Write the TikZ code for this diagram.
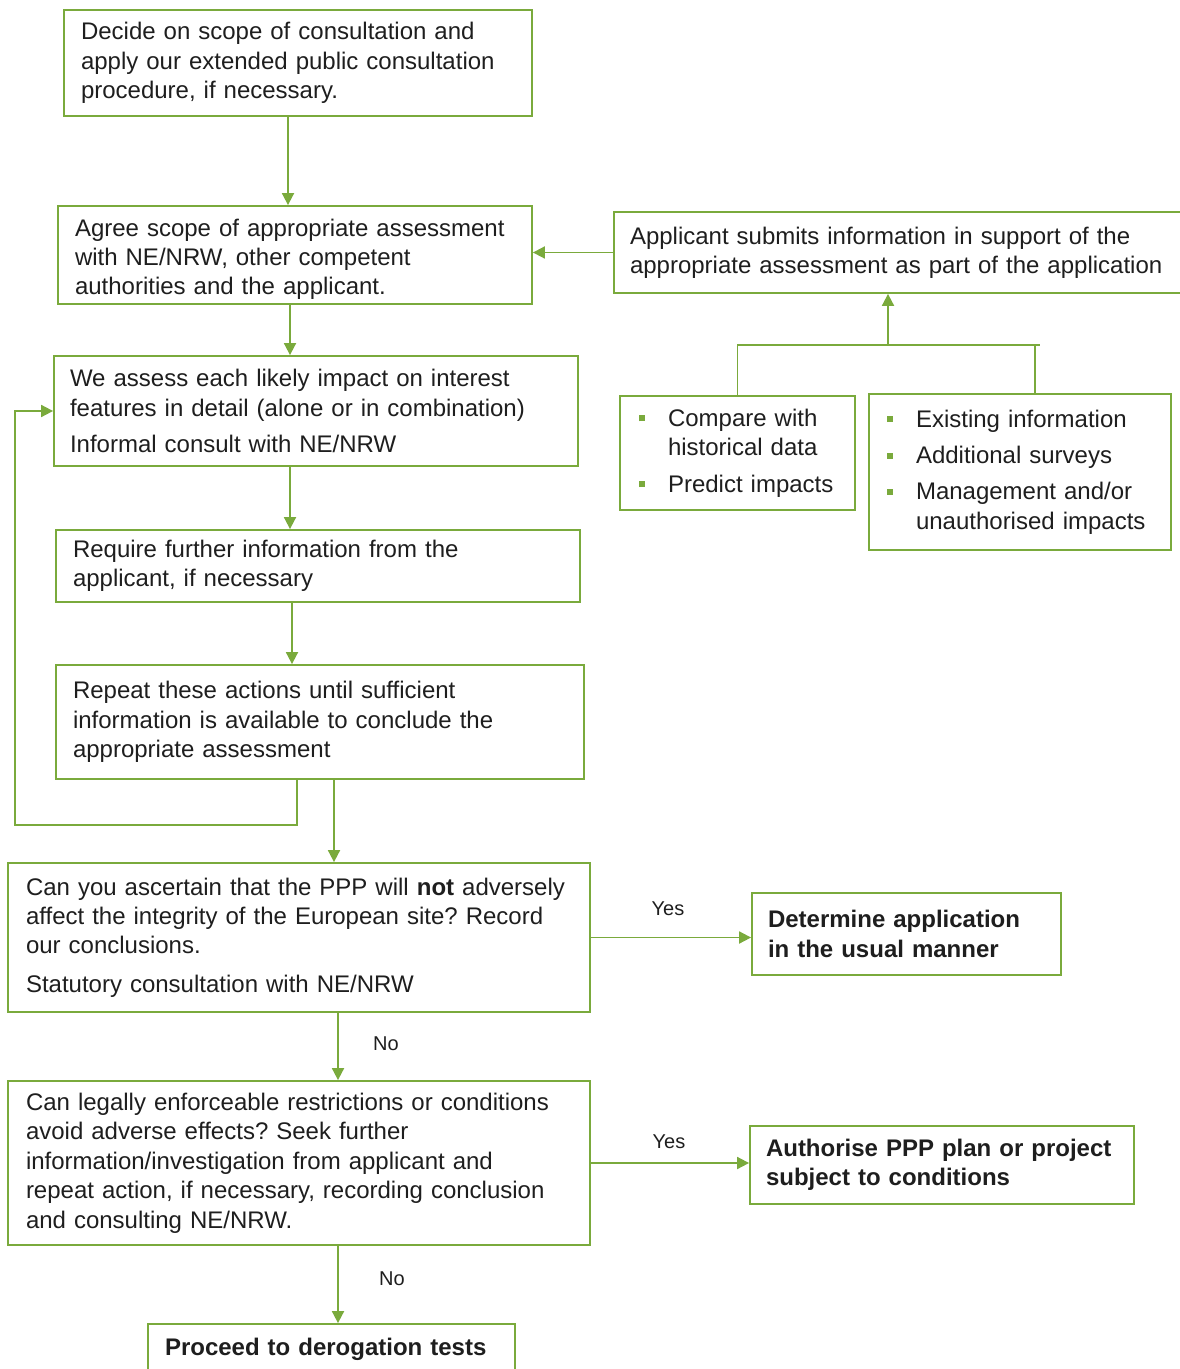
\documentclass[tikz,border=0pt]{standalone}
\usepackage{fontspec}
\setmainfont{Liberation Sans}
\usetikzlibrary{arrows.meta}
\definecolor{ppgreen}{RGB}{122,170,60}
\definecolor{pptext}{RGB}{30,30,30}
\newcommand\gbul{\makebox[14.5pt][l]{\textcolor{ppgreen}{\rule[2.5pt]{3pt}{3pt}}}}
\newcommand\gind{\hspace*{14.5pt}}
\begin{document}
\hyphenpenalty=10000 \exhyphenpenalty=10000 \frenchspacing
\begin{tikzpicture}[x=0.5pt,y=-0.5pt,
  box/.style={draw=ppgreen,line width=0.9pt,rectangle,inner xsep=8.5pt,inner ysep=0pt,
    align=left,text=pptext,font=\fontsize{12}{14.7}\selectfont},
  bbox/.style={box,font=\fontsize{12}{14.7}\selectfont\bfseries},
  lbl/.style={text=pptext,font=\fontsize{10}{12}\selectfont,inner sep=0pt},
  conn/.style={draw=ppgreen,line width=0.9pt},
  arr/.style={conn,-{Triangle[length=6pt,width=6pt]}}]
\useasboundingbox (0,0) rectangle (1179,1369);

\node[box,minimum width=234pt,minimum height=53pt,text width=217pt] (dec) at (298,63)
 {Decide on scope of consultation and\\apply our extended public consultation\\procedure, if necessary.};
\node[box,minimum width=237pt,minimum height=49pt,text width=220pt] (agr) at (295,255)
 {\rule{0pt}{13pt}Agree scope of appropriate assessment\\with NE/NRW, other competent\\authorities and the applicant.};
\node[box,minimum width=285.5pt,minimum height=40.5pt,text width=269.5pt,inner xsep=8pt] (app) at (899.5,252.5)
 {Applicant submits information in support of the\\appropriate assessment as part of the application};
\node[box,minimum width=262pt,minimum height=55pt,text width=246pt,inner xsep=8pt] (ass) at (316,411)
 {We assess each likely impact on interest\\features in detail (alone or in combination)\\[3.5pt]Informal consult with NE/NRW};
\node[box,minimum width=262pt,minimum height=36pt,text width=245pt] (req) at (318,566)
 {Require further information from the\\applicant, if necessary};
\node[box,minimum width=264pt,minimum height=57pt,text width=247pt] (rep) at (320,722)
 {Repeat these actions until sufficient\\information is available to conclude the\\appropriate assessment};
\node[box,minimum width=291pt,minimum height=74.5pt,text width=273pt,inner xsep=9pt] (can) at (299,937.5)
 {Can you ascertain that the PPP will \textbf{not} adversely\\affect the integrity of the European site? Record\\our conclusions.\\[4.5pt]Statutory consultation with NE/NRW};
\node[bbox,minimum width=154.5pt,minimum height=41pt,text width=138.5pt,inner xsep=8pt] (det) at (906.5,934)
 {Determine application\\in the usual manner};
\node[box,minimum width=291pt,minimum height=82pt,text width=273pt,inner xsep=9pt] (leg) at (299,1163)
 {Can legally enforceable restrictions or conditions\\avoid adverse effects? Seek further\\information/investigation from applicant and\\repeat action, if necessary, recording conclusion\\and consulting NE/NRW.};
\node[bbox,minimum width=192pt,minimum height=39pt,text width=176pt,inner xsep=8pt] (aut) at (942,1165)
 {Authorise PPP plan or project\\subject to conditions};
\node[bbox,minimum width=183.5pt,minimum height=25pt,text width=166.5pt] (pro) at (331.5,1349)
 {Proceed to derogation tests};
\node[box,minimum width=117.5pt,minimum height=57pt,text width=98.5pt,inner xsep=9.5pt] (cmp) at (737.5,453)
 {\gbul Compare with\\\gind historical data\\[3.5pt]\gbul Predict impacts};
\node[box,minimum width=151pt,minimum height=78pt,text width=133pt,inner xsep=9pt] (exi) at (1020,472)
 {\gbul Existing information\\[3.5pt]\gbul Additional surveys\\[3.5pt]\gbul Management and/or\\\gind unauthorised impacts};

% connectors
\draw[arr] ([xshift=-5pt]dec.south) -- ([xshift=-5pt]dec.south |- agr.north);
\draw[arr] (app.west) -- (app.west -| agr.east);
\draw[arr] ([xshift=-2.5pt]agr.south) -- ([xshift=-2.5pt]agr.south |- ass.north);
\draw[arr] ([xshift=-13pt]ass.south) -- ([xshift=-13pt]ass.south |- req.north);
\draw[arr] ([xshift=-13pt]req.south) -- ([xshift=-13pt]req.south |- rep.north);
\coordinate (lp) at (15,825);
\draw[arr] ([xshift=-11.5pt]rep.south) |- (lp) |- (ass.west);
\draw[arr] ([xshift=7pt]rep.south) -- ([xshift=7pt]rep.south |- can.north);
\draw[arr] (can.east) -- (can.east -| det.west);
\draw[arr] ([xshift=19.5pt]can.south) -- ([xshift=19.5pt]can.south |- leg.north);
\draw[arr] (leg.east) -- (leg.east -| aut.west);
\draw[arr] ([xshift=19.5pt]leg.south) -- ([xshift=19.5pt]leg.south |- pro.north);

\coordinate (tj) at (888,345);
\coordinate (tr) at (1040,345);
\draw[conn] (cmp.north) -- (cmp.north |- tj) -- (tr);
\draw[conn] ([xshift=7.5pt]exi.north) -- ([xshift=7.5pt]exi.north |- tj);
\draw[arr] (tj) -- (tj |- app.south);

% labels
\node[lbl] (y1) at (668,909) {Yes};
\node[lbl] (n1) at (386,1044) {No};
\node[lbl] (y2) at (669,1142) {Yes};
\node[lbl] (n2) at (392,1279) {No};
\end{tikzpicture}
\end{document}
